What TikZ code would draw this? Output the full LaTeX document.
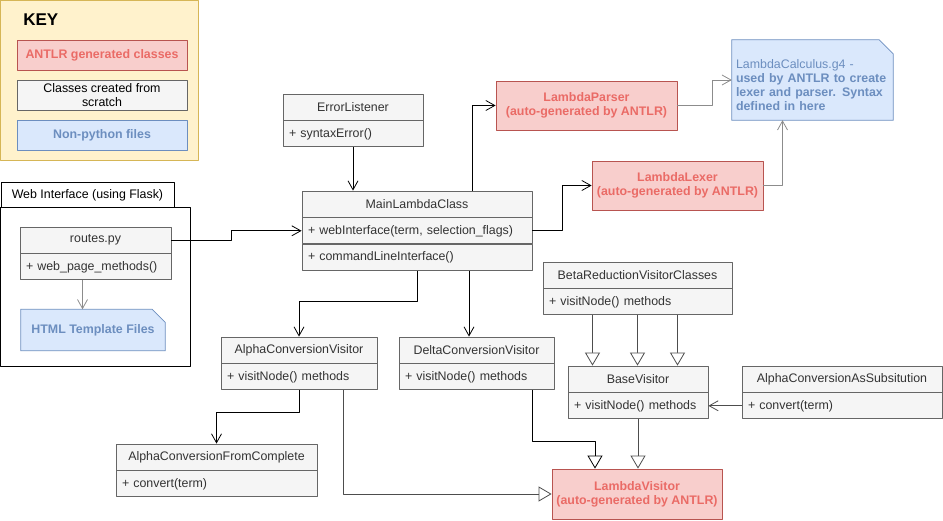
\documentclass[tikz,border=0pt]{standalone}
\usepackage{fontspec}
\setmainfont{Liberation Sans}
\usetikzlibrary{positioning,arrows.meta,backgrounds}
\definecolor{clsfill}{HTML}{F5F5F5}
\definecolor{clsline}{HTML}{666666}
\definecolor{clstext}{HTML}{333333}
\definecolor{redfill}{HTML}{F8CECC}
\definecolor{redline}{HTML}{B85450}
\definecolor{redtext}{HTML}{EA6B66}
\definecolor{bluefill}{HTML}{DAE8FC}
\definecolor{blueline}{HTML}{6C8EBF}
\definecolor{keyfill}{HTML}{FFF2CC}
\definecolor{keyline}{HTML}{D6B656}
\definecolor{linkgray}{HTML}{8C8C8C}
\definecolor{linkdark}{HTML}{4D4D4D}
\begin{document}
\fontsize{12.4}{14}\selectfont
\begin{tikzpicture}[x=1pt, y=-1pt, line join=round,
  cls/.style={draw=clsline, fill=clsfill, text=clstext, line width=0.8pt, minimum height=26pt, inner sep=0pt},
  memb/.style={cls, align=left, inner xsep=6pt},
  antlr/.style={draw=redline, fill=redfill, text=redtext, font=\bfseries, line width=0.8pt, align=center, inner sep=0pt},
  notetxt/.style={text=blueline, font=\bfseries, inner sep=0pt},
  link/.style={line width=0.8pt, -{Straight Barb[length=9pt,width=10pt]}},
  inh/.style={line width=0.8pt, -{Triangle[open,fill=white,length=13pt,width=15pt]}}]
\useasboundingbox (0,0) rectangle (943,521);

% key
\draw[draw=keyline, fill=keyfill, line width=0.8pt] (0.5,0.5) rectangle (198,160);
\node[font=\fontsize{17}{20}\selectfont\bfseries, anchor=west] (keytitle) at (19,20) {KEY};
\node[antlr, minimum width=170pt, minimum height=30pt] (keyred) at (102,55) {ANTLR generated classes};
\node[cls, text=black, minimum width=170pt, minimum height=30pt, align=center] (keygray) at (102,95) {Classes created from\\scratch};
\node[notetxt, draw=blueline, fill=bluefill, line width=0.8pt, minimum width=170pt, minimum height=30pt] (keyblue) at (102,135) {Non-python files};

% web interface package
\draw[line width=0.9pt] (0.5,207) rectangle (190,366);
\node[draw, line width=0.9pt, minimum width=173pt, minimum height=25pt, inner sep=0pt, anchor=north west] (webtab) at (0.5,182) {Web Interface (using Flask)};
\node[cls, minimum width=151pt] (routes) at (95.5,240) {routes.py};
\node[memb, text width=139pt, below=0pt of routes] (routesm) {+ web\_page\_methods()};
\node[notetxt, minimum width=144pt, minimum height=41pt] (html) at (93,330) {HTML Template Files};

% classes
\node[cls, minimum width=140pt] (err) at (353,107) {ErrorListener};
\node[memb, text width=128pt, below=0pt of err] (errm) {+ syntaxError()};

\node[cls, minimum width=230pt] (main) at (417,204) {MainLambdaClass};
\node[memb, text width=218pt, below=0pt of main] (mainw) {+ webInterface(term, selection\_flags)};
\node[memb, text width=218pt, below=0pt of mainw] (mainc) {+ commandLineInterface()};

\node[antlr, minimum width=181pt, minimum height=49pt] (parser) at (586.5,105.5) {LambdaParser\\(auto-generated by ANTLR)};
\node[antlr, minimum width=171pt, minimum height=49pt] (lexer) at (677.5,185.5) {LambdaLexer\\(auto-generated by ANTLR)};
\node[notetxt, minimum width=161pt, minimum height=80pt, text width=153pt, align=left] (g4) at (812.5,80) {{\mdseries\rule{0pt}{20pt}LambdaCalculus.g4 -}\\used by ANTLR to create\\lexer and parser. Syntax\\defined in here};

\node[cls, minimum width=189pt] (beta) at (637.5,275) {BetaReductionVisitorClasses};
\node[memb, text width=177pt, below=0pt of beta] (betam) {+ visitNode() methods};

\node[cls, minimum width=140pt] (base) at (638,379) {BaseVisitor};
\node[memb, text width=128pt, below=0pt of base] (basem) {+ visitNode() methods};

\node[cls, minimum width=200pt] (aas) at (842,379) {AlphaConversionAsSubsitution};
\node[memb, text width=188pt, below=0pt of aas] (aasm) {+ convert(term)};

\node[cls, minimum width=156pt] (alpha) at (299,350) {AlphaConversionVisitor};
\node[memb, text width=144pt, below=0pt of alpha] (alpham) {+ visitNode() methods};

\node[cls, minimum width=155pt] (delta) at (476.5,350) {DeltaConversionVisitor};
\node[memb, text width=143pt, below=0pt of delta] (deltam) {+ visitNode() methods};

\node[cls, minimum width=201pt] (afc) at (216.5,457) {AlphaConversionFromComplete};
\node[memb, text width=189pt, below=0pt of afc] (afcm) {+ convert(term)};

\node[antlr, minimum width=170pt, minimum height=50pt] (lv) at (637,494) {LambdaVisitor\\(auto-generated by ANTLR)};

% note outlines
\begin{scope}[on background layer]
\draw[draw=blueline, fill=bluefill, line width=0.8pt] (html.north west) -- ([xshift=-13pt]html.north east) -- ([yshift=-13pt]html.north east) -- (html.south east) -- (html.south west) -- cycle;
\draw[draw=blueline, fill=bluefill, line width=0.8pt] (g4.north west) -- ([xshift=-14pt]g4.north east) -- ([yshift=-14pt]g4.north east) -- (g4.south east) -- (g4.south west) -- cycle;
\end{scope}

% connectors
\draw[link] (errm.south) -- (errm.south |- main.north);
\draw[link] (routes.east) -- ++(60,0) |- (mainw.west);
\draw[link] ([xshift=55pt]main.north) |- (parser.west);
\draw[link] (mainw.east) -- ++(30,0) |- (lexer.west);
\draw[link, linkgray] (parser.east) -- ++(35,0) |- (g4.west);
\draw[link, linkgray] (lexer.east) -| ([xshift=-30pt]g4.south);
\draw[link, linkgray] ([xshift=-13pt]routesm.south) -- ([xshift=-13pt]routesm.south |- html.north);
\draw[link] (mainc.south) -- ++(0,30) -| (alpha.north);
\draw[link] ([xshift=52pt]mainc.south) -- ([xshift=52pt]mainc.south |- delta.north);
\draw[link] (alpham.south) -- ++(0,22) -| (afc.north);
\draw[inh, linkdark] ([xshift=44pt]alpham.south) |- (lv.west);
\draw[inh] ([xshift=56pt]deltam.south) -- ++(0,51) -| ([xshift=-42pt]lv.north);
\draw[inh, linkdark] (basem.south) -- (basem.south |- lv.north);
\foreach \dx in {-45,0,40}
  \draw[inh, linkdark] ([xshift=\dx pt]betam.south) -- ([xshift=\dx pt]betam.south |- base.north);
\draw[link, linkdark] (aasm.west) -- (basem.east);
\end{tikzpicture}
\end{document}
